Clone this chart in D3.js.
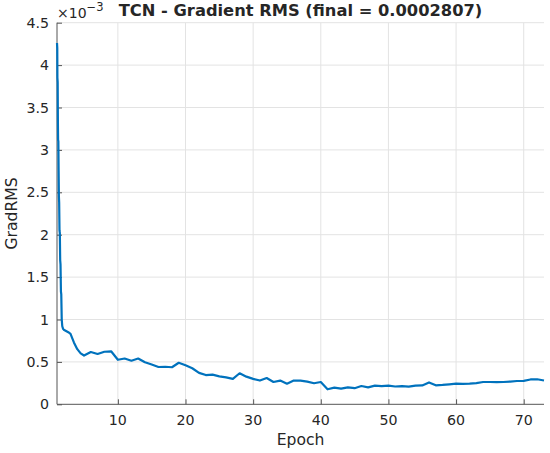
<!DOCTYPE html>
<html>
<head>
<meta charset="utf-8">
<script src="https://cdn.jsdelivr.net/npm/d3@7"></script>
<style>
  body { margin: 0; background: #fff; }
  svg text { font-family: "DejaVu Sans", sans-serif; fill: #262626; }
</style>
</head>
<body>
<div id="chart"></div>
<script>
// Gradient RMS per epoch (values in units of 1e-3)
var epochs = [1.00, 1.04, 1.06, 1.10, 1.13, 1.16, 1.20, 1.24, 1.28, 1.32, 1.37, 1.42, 1.47, 1.52, 1.58, 1.63, 1.70, 1.78, 1.90,
    2, 2.67, 3, 3.5, 4, 4.5, 5, 6, 7, 8, 9, 10, 11, 12, 13, 14, 15, 16, 17, 18, 19, 20,
    21, 22, 23, 24, 25, 26, 27, 28, 29, 30, 31, 32, 33, 34, 35, 36, 37, 38, 39, 40,
    41, 42, 43, 44, 45, 46, 47, 48, 49, 50, 51, 52, 53, 54, 55, 56, 57, 58, 59, 60,
    61, 62, 63, 64, 65, 66, 67, 68, 69, 70, 71, 72, 73];
var gradRms = [4.26, 4.20, 3.85, 3.80, 3.35, 3.12, 3.10, 2.75, 2.45, 2.38, 2.05, 2.02, 1.70, 1.65, 1.33, 1.30, 1.00, 0.92, 0.89,
    0.88, 0.85, 0.83, 0.73, 0.65, 0.60, 0.575, 0.617, 0.593, 0.62, 0.625, 0.525, 0.54, 0.514, 0.54, 0.495, 0.47, 0.44, 0.443, 0.437, 0.49, 0.46,
    0.425, 0.37, 0.345, 0.35, 0.33, 0.318, 0.30, 0.366, 0.326, 0.30, 0.28, 0.31, 0.263, 0.28, 0.243, 0.28, 0.28, 0.267, 0.248, 0.263,
    0.177, 0.196, 0.184, 0.20, 0.19, 0.216, 0.20, 0.22, 0.215, 0.22, 0.21, 0.215, 0.208, 0.22, 0.222, 0.258, 0.224, 0.228, 0.235, 0.243,
    0.242, 0.243, 0.25, 0.263, 0.263, 0.262, 0.263, 0.268, 0.275, 0.277, 0.293, 0.295, 0.2807];

var xTicks = [10, 20, 30, 40, 50, 60, 70];
var yTicks = [0, 0.5, 1, 1.5, 2, 2.5, 3, 3.5, 4, 4.5];
var titleText = "TCN - Gradient RMS (final = 0.0002807)";

var width = 550;
var height = 453;
var plot = { left: 57, right: 544, top: 22.7, bottom: 404.3 };

var svg = d3.select("#chart").append("svg")
    .attr("width", width)
    .attr("height", height);

var xScale = d3.scaleLinear()
    .domain([1, 73])
    .range([plot.left, plot.right]);

var yScale = d3.scaleLinear()
    .domain([0, 4.5])
    .range([plot.bottom, plot.top]);

// grid lines
svg.append("g")
    .selectAll("line")
    .data(xTicks)
    .enter()
    .append("line")
    .attr("x1", d => xScale(d)).attr("x2", d => xScale(d))
    .attr("y1", plot.top).attr("y2", plot.bottom)
    .attr("stroke", "#e3e3e3").attr("stroke-width", 1);

svg.append("g")
    .selectAll("line")
    .data(yTicks.slice(1))
    .enter()
    .append("line")
    .attr("x1", plot.left).attr("x2", plot.right)
    .attr("y1", d => yScale(d)).attr("y2", d => yScale(d))
    .attr("stroke", "#e3e3e3").attr("stroke-width", 1);

// axes (ticks pointing inward, MATLAB style)
var xAxis = d3.axisTop(xScale).tickValues(xTicks).tickSize(5).tickFormat("");
var yAxis = d3.axisRight(yScale).tickValues(yTicks).tickSize(5).tickFormat("");

var gx = svg.append("g")
    .attr("transform", "translate(0," + plot.bottom + ")")
    .call(xAxis);
var gy = svg.append("g")
    .attr("transform", "translate(" + plot.left + ",0)")
    .call(yAxis);
gx.select(".domain").attr("d", "M" + plot.left + ",0H" + plot.right);
gy.select(".domain").attr("d", "M0," + plot.bottom + "V" + plot.top);
svg.selectAll(".domain, .tick line").attr("stroke", "#555");

// tick labels
svg.append("g")
    .selectAll("text")
    .data(xTicks)
    .enter()
    .append("text")
    .attr("x", d => xScale(d))
    .attr("y", 424.5)
    .attr("text-anchor", "middle")
    .attr("font-size", 14.2)
    .text(d => d);

svg.append("g")
    .selectAll("text")
    .data(yTicks)
    .enter()
    .append("text")
    .attr("x", plot.left - 8)
    .attr("y", d => yScale(d) + 5)
    .attr("text-anchor", "end")
    .attr("font-size", 14.2)
    .text(d => d);

// exponent label
var expo = svg.append("text")
    .attr("x", 57)
    .attr("y", 17.5)
    .attr("font-size", 14);
expo.append("tspan").text("\u00d710");
expo.append("tspan").attr("dy", -6.5).attr("font-size", 11.5).text("\u22123");

// the line
var line = d3.line()
    .x((d, i) => xScale(epochs[i]))
    .y(d => yScale(d));

svg.append("path")
    .datum(gradRms)
    .attr("d", line)
    .attr("fill", "none")
    .attr("stroke", "#0072BD")
    .attr("stroke-width", 2.2)
    .attr("stroke-linejoin", "round");

// title and axis labels
svg.append("text")
    .attr("x", (plot.left + plot.right) / 2)
    .attr("y", 16)
    .attr("text-anchor", "middle")
    .attr("font-size", 16.3)
    .attr("font-weight", "bold")
    .text(titleText);

svg.append("text")
    .attr("x", (plot.left + plot.right) / 2)
    .attr("y", 445)
    .attr("text-anchor", "middle")
    .attr("font-size", 15.6)
    .text("Epoch");

svg.append("text")
    .attr("transform", "translate(16.5," + (plot.top + plot.bottom) / 2 + ") rotate(-90)")
    .attr("text-anchor", "middle")
    .attr("font-size", 15.6)
    .text("GradRMS");
</script>
</body>
</html>
